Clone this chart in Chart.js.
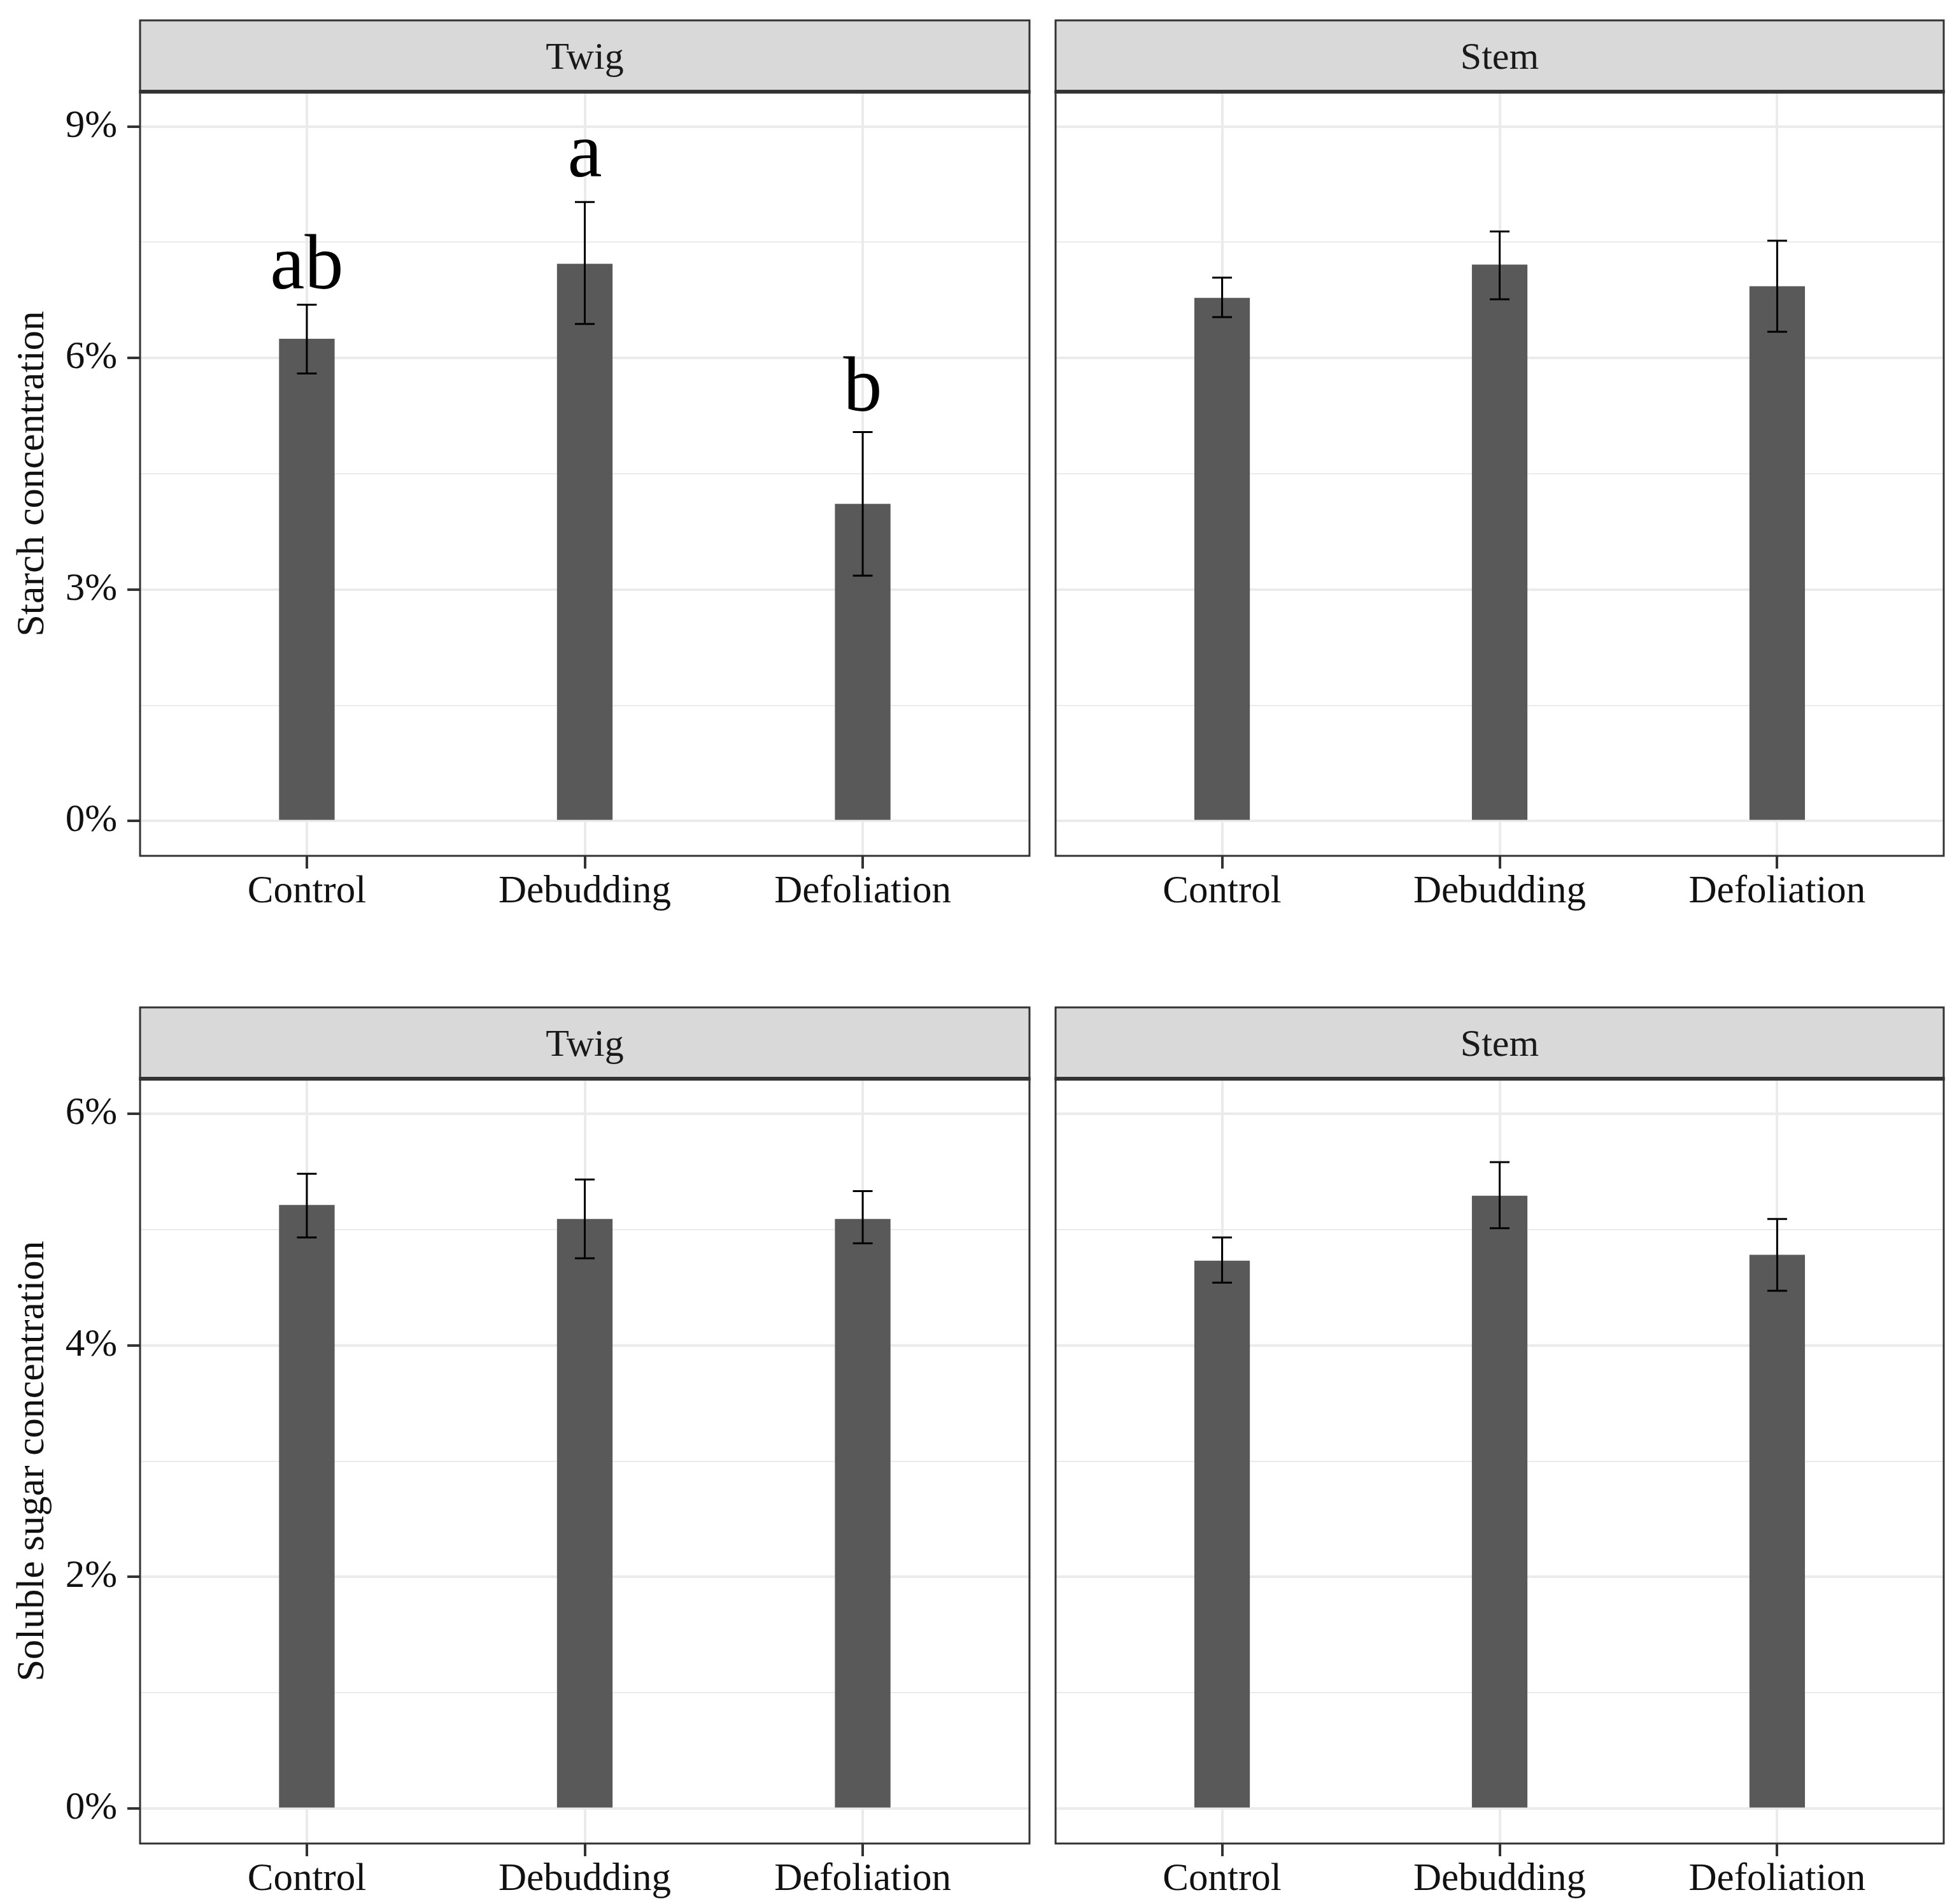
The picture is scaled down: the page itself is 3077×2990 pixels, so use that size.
<!DOCTYPE html>
<html>
<head>
<meta charset="utf-8">
<script src="https://cdn.jsdelivr.net/npm/chart.js@4.4.0/dist/chart.umd.min.js"></script>
<style>
  body { margin: 0; background: #fff; }
  canvas { position: absolute; }
</style>
</head>
<body>
<canvas id="starchTwig" width="1637" height="1480" style="left:0;top:0;width:1637px;height:1480px"></canvas>
<canvas id="starchStem" width="1440" height="1480" style="left:1637px;top:0;width:1440px;height:1480px"></canvas>
<canvas id="sugarTwig" width="1637" height="1510" style="left:0;top:1480px;width:1637px;height:1510px"></canvas>
<canvas id="sugarStem" width="1440" height="1510" style="left:1637px;top:1480px;width:1440px;height:1510px"></canvas>
<script>
const treatments = ['Control', 'Debudding', 'Defoliation'];

// starch (%), mean and error bar ends
const starchTwig = [6.25, 7.22, 4.11];
const starchTwigLow = [5.80, 6.44, 3.18];
const starchTwigHigh = [6.69, 8.02, 5.04];
const starchStem = [6.78, 7.21, 6.93];
const starchStemLow = [6.53, 6.76, 6.34];
const starchStemHigh = [7.04, 7.64, 7.52];
const starchLetters = ['ab', 'a', 'b'];
const starchLetterY = [6.9, 8.35, 5.32];

// soluble sugar (%)
const sugarTwig = [5.21, 5.09, 5.09];
const sugarTwigLow = [4.93, 4.75, 4.88];
const sugarTwigHigh = [5.48, 5.43, 5.33];
const sugarStem = [4.73, 5.29, 4.78];
const sugarStemLow = [4.54, 5.01, 4.47];
const sugarStemHigh = [4.93, 5.58, 5.09];

const starchTicks = [0, 3, 6, 9];
const starchMinor = [1.5, 4.5, 7.5];
const sugarTicks = [0, 2, 4, 6];
const sugarMinor = [1, 3, 5];

Chart.defaults.font.family = "'Liberation Serif', 'Times New Roman', serif";

function makeDeco(p) {
    return {
        id: 'panelDeco',
        beforeDraw(chart) {
            const {ctx, chartArea: a} = chart;
            ctx.save();
            ctx.fillStyle = '#d9d9d9';
            ctx.fillRect(a.left, a.top - 112, a.right - a.left, 112);
            ctx.strokeStyle = '#333';
            ctx.lineWidth = 3;
            ctx.strokeRect(a.left, a.top - 112, a.right - a.left, 112);
            ctx.fillStyle = '#1a1a1a';
            ctx.font = "60px 'Liberation Serif'";
            ctx.textAlign = 'center';
            ctx.textBaseline = 'middle';
            ctx.fillText(p.strip, (a.left + a.right) / 2, a.top - 52);
            ctx.restore();
        },
        afterDatasetsDraw(chart) {
            const {ctx, scales: {x, y}} = chart;
            ctx.save();
            ctx.strokeStyle = '#000';
            ctx.lineWidth = 3;
            p.low.forEach((lo, i) => {
                const px = x.getPixelForValue(i);
                const y1 = y.getPixelForValue(lo);
                const y2 = y.getPixelForValue(p.high[i]);
                ctx.beginPath();
                ctx.moveTo(px, y1); ctx.lineTo(px, y2);
                ctx.moveTo(px - 15.5, y1); ctx.lineTo(px + 15.5, y1);
                ctx.moveTo(px - 15.5, y2); ctx.lineTo(px + 15.5, y2);
                ctx.stroke();
            });
            if (p.letters) {
                ctx.fillStyle = '#000';
                ctx.font = "122px 'Liberation Serif'";
                ctx.textAlign = 'center';
                ctx.textBaseline = 'alphabetic';
                p.letters.forEach((t, i) => {
                    ctx.fillText(t, x.getPixelForValue(i), y.getPixelForValue(p.letterY[i]));
                });
            }
            ctx.restore();
        },
        afterDraw(chart) {
            const {ctx, chartArea: a} = chart;
            ctx.save();
            ctx.strokeStyle = '#333';
            ctx.lineWidth = 3;
            ctx.strokeRect(a.left, a.top, a.right - a.left, a.bottom - a.top);
            // strip bottom edge is heavier in the original
            ctx.lineWidth = 6;
            ctx.beginPath();
            ctx.moveTo(a.left - 1.5, a.top);
            ctx.lineTo(a.right + 1.5, a.top);
            ctx.stroke();
            ctx.restore();
        }
    };
}

function makePanel(id, p) {
    const isMajor = v => p.major.includes(v);
    return new Chart(document.getElementById(id), {
        type: 'bar',
        data: {
            datasets: [{
                data: p.values.map((v, i) => ({x: i, y: v})),
                backgroundColor: '#595959',
                borderWidth: 0,
                barPercentage: 0.2,
                categoryPercentage: 1
            }]
        },
        options: {
            responsive: false,
            animation: false,
            devicePixelRatio: 1,
            layout: {padding: p.padding},
            plugins: {
                legend: {display: false},
                tooltip: {enabled: false}
            },
            scales: {
                x: {
                    type: 'linear',
                    min: -0.6,
                    max: 2.6,
                    offset: false,
                    afterBuildTicks: s => { s.ticks = treatments.map((t, i) => ({value: i})); },
                    afterFit: s => { s.height = p.xHeight; },
                    border: {display: false},
                    grid: {offset: false, color: '#ebebeb', lineWidth: 4, tickLength: 20, tickWidth: 4, tickColor: '#333'},
                    ticks: {
                        autoSkip: false, maxRotation: 0, padding: 0, color: '#111',
                        font: {size: 61},
                        callback: v => treatments[v]
                    }
                },
                y: {
                    min: p.yMin,
                    max: p.yMax,
                    afterBuildTicks: s => {
                        s.ticks = p.major.concat(p.minor).sort((a, b) => a - b).map(v => ({value: v}));
                    },
                    afterFit: s => { s.width = p.showY ? 220 : 0; },
                    border: {display: false},
                    grid: {
                        color: '#ebebeb',
                        lineWidth: c => (c.tick && isMajor(c.tick.value)) ? 4 : 2,
                        drawTicks: p.showY,
                        tickLength: 20,
                        tickWidth: 4,
                        tickColor: c => (c.tick && isMajor(c.tick.value)) ? '#333' : 'rgba(0,0,0,0)'
                    },
                    ticks: {
                        display: p.showY, padding: 16, color: '#111',
                        font: {size: 61},
                        callback: v => isMajor(v) ? v + '%' : ''
                    },
                    title: {
                        display: p.showY, text: p.yTitle, color: '#111',
                        font: {size: 62}, padding: {top: 15, bottom: 0}
                    }
                }
            }
        },
        plugins: [makeDeco(p)]
    });
}

/* Starch - Twig ---------------------------------------------------------- */
makePanel('starchTwig', {
    strip: 'Twig', values: starchTwig, low: starchTwigLow, high: starchTwigHigh,
    letters: starchLetters, letterY: starchLetterY,
    yMin: -0.45, yMax: 9.45, major: starchTicks, minor: starchMinor,
    showY: true, yTitle: 'Starch concentration',
    padding: {left: 0, right: 20, top: 144, bottom: 0}, xHeight: 136
});

/* Starch - Stem ---------------------------------------------------------- */
makePanel('starchStem', {
    strip: 'Stem', values: starchStem, low: starchStemLow, high: starchStemHigh,
    yMin: -0.45, yMax: 9.45, major: starchTicks, minor: starchMinor,
    showY: false, yTitle: '',
    padding: {left: 21, right: 24, top: 144, bottom: 0}, xHeight: 136
});

/* Soluble sugar - Twig --------------------------------------------------- */
makePanel('sugarTwig', {
    strip: 'Twig', values: sugarTwig, low: sugarTwigLow, high: sugarTwigHigh,
    yMin: -0.3, yMax: 6.3, major: sugarTicks, minor: sugarMinor,
    showY: true, yTitle: 'Soluble sugar concentration',
    padding: {left: 0, right: 20, top: 214, bottom: 0}, xHeight: 95
});

/* Soluble sugar - Stem --------------------------------------------------- */
makePanel('sugarStem', {
    strip: 'Stem', values: sugarStem, low: sugarStemLow, high: sugarStemHigh,
    yMin: -0.3, yMax: 6.3, major: sugarTicks, minor: sugarMinor,
    showY: false, yTitle: '',
    padding: {left: 21, right: 24, top: 214, bottom: 0}, xHeight: 95
});
</script>
</body>
</html>
